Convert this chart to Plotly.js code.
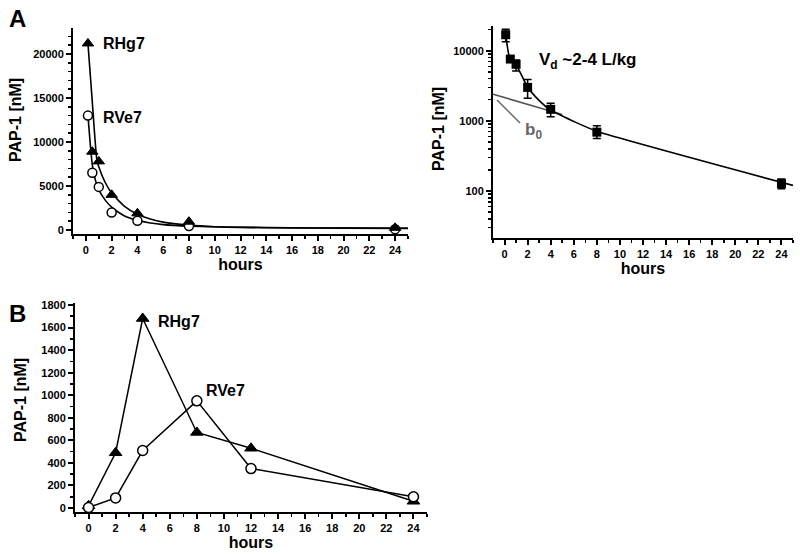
<!DOCTYPE html>
<html>
<head>
<meta charset="utf-8">
<script src="https://cdn.plot.ly/plotly-3.0.1.min.js"></script>
<style>html,body{margin:0;padding:0;background:#fff;}#plot{width:800px;height:556px;}</style>
</head>
<body>
<div id="plot"></div>
<script>
// ---------- Panel A (left): linear scale ----------
const hoursA = [0.16, 0.5, 1, 2, 4, 8, 24];
const rhg7A = [21200, 8900, 7800, 4000, 1900, 950, 250];
const rve7A = [13000, 6500, 4900, 2000, 1050, 450, 100];
// fitted curves
const fitHoursRHg7 = [0.16, 0.5, 0.85, 1, 1.5, 2, 3, 4, 5, 6, 8, 10, 12, 16, 20, 25];
const fitRHg7 = [21200, 14500, 8000, 7200, 5400, 4200, 2700, 1800, 1250, 900, 560, 380, 300, 240, 220, 200];
const fitHoursRVe7 = [0.16, 0.5, 0.75, 1, 1.5, 2, 3, 4, 5, 6, 8, 10, 12, 16, 20, 25];
const fitRVe7 = [13000, 7400, 5600, 4600, 3400, 2600, 1600, 1100, 800, 620, 450, 370, 320, 260, 220, 190];

// ---------- Panel A (right): log scale ----------
const hoursR = [0.1, 0.5, 1, 2, 4, 8, 24];
const meanR = [16900, 7600, 6400, 3000, 1460, 690, 128];
const errUpR = [3300, 500, 950, 900, 320, 160, 20];
const errDownR = [3500, 500, 1250, 900, 320, 130, 20];
const fitHoursR = [0.1, 0.45, 1.05, 2, 2.95, 3.95, 4.7, 6, 8, 25];
const fitR = [16900, 7800, 6100, 3010, 1990, 1430, 1240, 980, 710, 120];
const termHours = [-1, 5];
const termVals = [2400, 1230];

// ---------- Panel B ----------
const hoursB = [0, 2, 4, 8, 12, 24];
const rhg7B = [20, 490, 1680, 670, 530, 60];
const rve7B = [5, 90, 510, 950, 350, 100];

// tick labels
const xTicks = [0, 2, 4, 6, 8, 10, 12, 14, 16, 18, 20, 22, 24];
const yTicksA = [0, 5000, 10000, 15000, 20000];
const yTicksLog = [100, 1000, 10000];
const yTicksB = [0, 200, 400, 600, 800, 1000, 1200, 1400, 1600, 1800];

const W = 800, H = 556;
const px = x => x / W;
const py = y => 1 - y / H;
const FONT = "'Liberation Sans', Arial, sans-serif";

const tri = (size) => ({symbol: 'triangle-up', size: size, color: '#000', line: {color: '#000', width: 1}});
const circ = (size) => ({symbol: 'circle', size: size, color: '#fff', line: {color: '#000', width: 1.5}});

const traces = [
  // A left fits
  {x: fitHoursRHg7, y: fitRHg7, mode: 'lines', line: {color: '#000', width: 1.6, shape: 'spline', smoothing: 0.6}, xaxis: 'x', yaxis: 'y', hoverinfo: 'skip'},
  {x: fitHoursRVe7, y: fitRVe7, mode: 'lines', line: {color: '#000', width: 1.6, shape: 'spline', smoothing: 0.6}, xaxis: 'x', yaxis: 'y', hoverinfo: 'skip'},
  {x: hoursA, y: rve7A, mode: 'markers', marker: circ(9), xaxis: 'x', yaxis: 'y', name: 'RVe7'},
  {x: hoursA, y: rhg7A, mode: 'markers', marker: tri(10), xaxis: 'x', yaxis: 'y', name: 'RHg7'},
  // A right
  {x: termHours, y: termVals, mode: 'lines', line: {color: '#555', width: 1.6}, xaxis: 'x2', yaxis: 'y2', hoverinfo: 'skip'},
  {x: fitHoursR, y: fitR, mode: 'lines', line: {color: '#000', width: 1.6, shape: 'spline', smoothing: 0.5}, xaxis: 'x2', yaxis: 'y2', hoverinfo: 'skip'},
  {x: hoursR, y: meanR, mode: 'markers', marker: {symbol: 'square', size: 9, color: '#000'},
   error_y: {type: 'data', symmetric: false, array: errUpR, arrayminus: errDownR, color: '#000', thickness: 1.5, width: 4},
   xaxis: 'x2', yaxis: 'y2'},
  // B
  {x: hoursB, y: rhg7B, mode: 'lines+markers', line: {color: '#000', width: 1.5}, marker: tri(11), xaxis: 'x3', yaxis: 'y3', name: 'RHg7'},
  {x: hoursB, y: rve7B, mode: 'lines+markers', line: {color: '#000', width: 1.5}, marker: circ(10), xaxis: 'x3', yaxis: 'y3', name: 'RVe7'}
];

const tickFont = {family: FONT, size: 11, color: '#000', weight: 'bold'};
const titleFont = {family: FONT, size: 16, color: '#000', weight: 'bold'};
const yTitleFont = {family: FONT, size: 16, color: '#000', weight: 'bold'};

function xAxis(domain, anchor) {
  return {
    domain: domain, anchor: anchor, range: [-1, 25],
    tickvals: xTicks, ticktext: xTicks.map(String),
    showline: true, linecolor: '#000', linewidth: 2, mirror: false,
    ticks: 'outside', ticklen: 5, tickwidth: 2, tickcolor: '#000',
    minor: {ticks: 'outside', dtick: 1, tick0: 0, ticklen: 3, tickwidth: 1.5, tickcolor: '#000'},
    showgrid: false, zeroline: false, tickfont: tickFont,
    title: {text: 'hours', font: titleFont, standoff: 4},
    automargin: false, fixedrange: true
  };
}
function yAxisBase(extra) {
  return Object.assign({
    showline: true, linecolor: '#000', linewidth: 2,
    ticks: 'outside', ticklen: 5, tickwidth: 2, tickcolor: '#000',
    showgrid: false, zeroline: false, tickfont: tickFont,
    automargin: false, fixedrange: true
  }, extra);
}

const label = (text, x, y, size, color, anchor) => ({
  text: text, x: px(x), y: py(y), xref: 'paper', yref: 'paper',
  xanchor: anchor || 'left', yanchor: 'middle', showarrow: false,
  font: {family: FONT, size: size, weight: 'bold', color: color || '#000'}
});
const yTitle = (x, y) => Object.assign(label('PAP-1 [nM]', x, y, 16, '#000', 'center'), {textangle: -90});

const layout = {
  width: W, height: H,
  margin: {l: 0, r: 0, t: 0, b: 0},
  paper_bgcolor: '#fff', plot_bgcolor: '#fff',
  showlegend: false,
  font: {family: FONT, color: '#000'},
  xaxis: xAxis([px(73), px(408)], 'y'),
  yaxis: yAxisBase({
    domain: [py(234), py(28)], anchor: 'x', range: [-450, 22955],
    tickvals: yTicksA, ticktext: yTicksA.map(String),
    minor: {ticks: 'outside', dtick: 1000, tick0: 0, ticklen: 3, tickwidth: 1.5, tickcolor: '#000'}
  }),
  xaxis2: xAxis([px(493), px(793)], 'y2'),
  yaxis2: yAxisBase({
    domain: [py(238), py(26)], anchor: 'x2', type: 'log', range: [1.33, 4.352],
    tickvals: yTicksLog, ticktext: yTicksLog.map(String),
    minor: {ticks: 'outside', dtick: 'D1', ticklen: 3, tickwidth: 1.5, tickcolor: '#000'}
  }),
  xaxis3: xAxis([px(75), px(427)], 'y3'),
  yaxis3: yAxisBase({
    domain: [py(512), py(302.7)], anchor: 'x3', range: [-35, 1820],
    tickvals: yTicksB, ticktext: yTicksB.map(String),
    minor: {ticks: 'outside', dtick: 100, tick0: 0, ticklen: 3, tickwidth: 1.5, tickcolor: '#000'}
  }),
  shapes: [
    {type: 'line', xref: 'paper', yref: 'paper', x0: px(497), y0: py(100), x1: px(520), y1: py(123), line: {color: '#666', width: 1.5}}
  ],
  annotations: [
    yTitle(15, 120), yTitle(438, 129), yTitle(20, 400),
    label('A', 17, 18, 24, '#000', 'center'),
    label('B', 17, 313, 24, '#000', 'center'),
    label('RHg7', 101, 44, 16),
    label('RVe7', 101, 117, 16),
    label('V<sub>d</sub> ~2-4 L/kg', 537, 61, 17),
    label('b<sub>0</sub>', 523, 131, 17, '#666'),
    label('RHg7', 156, 321, 16),
    label('RVe7', 204, 390, 16)
  ]
};

Plotly.newPlot('plot', traces, layout, {staticPlot: true, displayModeBar: false});
</script>
</body>
</html>
